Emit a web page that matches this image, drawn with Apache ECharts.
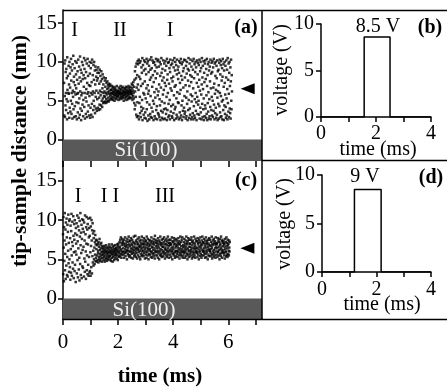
<!DOCTYPE html>
<html><head><meta charset="utf-8">
<script src="https://cdn.jsdelivr.net/npm/echarts@6/dist/echarts.min.js"></script>
<style>html,body{margin:0;padding:0;background:#fff}#c{width:447px;height:389px}</style>
</head><body><div id="c"></div>
<script>
const SERIF = '"Liberation Serif","Times New Roman",serif';

// Panel (a): tip-sample distance (nm), sampled evenly between timeRangeA (ms)
const timeRangeA = [0.04, 6.13];
const distA = [
7.3,3.1,9.8,5.6,2.9,10.2,4.4,8.7,6.0,3.8,9.1,5.2,7.9,2.6,10.6,6.4,4.9,8.2,3.4,6.0,9.5,5.9,7.1,2.8,10.0,4.1,8.5,6.7,3.6,9.3,
5.0,10.4,7.6,3.3,6.0,8.9,4.6,2.7,9.7,6.3,5.5,10.8,3.9,7.4,8.1,2.9,6.1,9.2,4.3,7.0,10.1,5.8,3.0,8.4,6.6,4.8,9.9,2.6,7.7,5.9,
8.8,3.5,6.0,10.3,4.7,7.2,2.8,9.4,5.3,8.0,3.2,10.7,6.2,4.0,9.0,7.5,2.5,5.7,8.6,3.7,10.0,6.0,4.5,7.8,9.6,3.0,5.1,8.3,6.8,10.5,
4.2,9.1,6.0,2.7,7.9,10.2,5.4,3.3,8.7,6.5,4.9,9.8,2.9,7.3,5.9,10.4,3.6,8.2,6.1,4.4,9.5,7.0,3.1,5.6,10.0,8.5,2.8,6.9,4.1,9.2,
6.0,3.2,9.9,7.4,4.6,10.3,5.8,2.9,8.3,6.2,3.8,9.6,5.0,7.7,10.0,4.3,6.0,8.9,3.4,7.1,9.4,5.5,4.0,8.1,6.3,9.0,3.7,7.6,5.2,8.6,
7.9,4.1,9.3,6.0,3.8,8.6,5.4,7.2,4.5,9.0,6.3,3.9,8.2,5.7,7.5,4.4,8.8,6.1,5.0,7.8,4.2,6.6,8.4,5.3,4.7,7.1,6.0,8.0,5.6,4.8,
6.2,4.9,7.6,5.5,6.8,4.7,7.9,6.0,5.2,7.3,5.8,4.8,6.5,7.5,5.0,6.1,7.0,5.4,6.7,4.9,7.2,5.9,6.3,5.1,6.9,5.6,7.1,6.0,5.3,6.4,
5.8,6.4,5.2,6.9,6.0,5.5,6.6,5.1,6.2,5.9,6.8,5.4,6.1,5.7,6.5,5.0,6.3,5.8,6.7,5.3,6.0,5.6,6.4,5.9,5.2,6.9,6.1,5.5,6.2,5.7,
6.3,5.6,6.0,5.1,6.7,5.9,6.2,5.4,6.5,5.8,6.1,5.2,6.9,6.0,5.5,6.4,5.7,6.6,5.3,6.0,5.9,6.8,5.4,6.2,5.6,6.3,5.0,6.1,5.8,6.6,
5.7,6.5,5.3,6.1,5.9,6.8,5.5,6.2,5.1,6.4,6.0,5.6,6.7,5.8,6.3,5.2,6.0,6.9,5.4,6.2,5.8,6.6,5.5,6.1,6.4,5.3,6.8,5.9,6.3,6.0,
6.1,5.4,7.2,5.8,6.6,5.1,7.0,6.3,5.6,7.4,6.0,5.3,6.8,4.7,7.7,3.9,8.8,6.2,4.4,9.4,5.5,7.9,3.2,9.8,6.7,2.9,8.3,4.8,10.1,7.1,
9.7,3.0,6.4,10.3,2.6,8.1,4.7,9.9,5.5,3.4,7.8,10.1,2.9,6.9,4.2,9.3,3.7,8.6,5.1,10.5,2.5,7.2,9.6,4.0,6.0,3.2,8.9,10.2,5.8,2.8,
7.5,10.0,3.5,9.1,5.3,2.7,8.4,6.6,10.4,3.9,4.8,9.8,2.4,7.0,10.1,5.9,3.1,8.7,6.3,9.5,2.6,4.5,10.3,7.7,3.3,9.0,5.6,2.9,8.0,10.6,
4.1,9.2,2.8,6.8,10.2,3.6,8.3,5.0,9.9,2.5,7.4,4.6,10.0,6.1,3.0,8.8,9.6,5.4,2.7,7.9,10.4,3.8,6.5,9.3,4.3,2.6,8.5,10.1,5.7,3.4,
10.3,6.2,3.2,9.4,7.1,2.9,5.2,10.0,4.4,8.2,2.5,9.7,6.7,3.7,10.5,8.6,4.9,2.8,7.6,9.1,3.5,5.8,10.2,2.6,8.0,6.4,3.9,9.8,4.7,7.3,
2.7,8.9,10.1,4.0,6.9,3.3,9.5,5.5,2.5,10.4,7.7,3.8,8.4,6.0,9.9,2.9,4.6,10.0,7.2,3.1,9.2,5.1,2.6,8.7,10.3,6.6,3.6,9.6,4.3,7.9,
6.3,3.0,9.8,2.8,7.5,10.2,4.5,8.1,3.4,9.3,5.7,2.5,10.5,6.8,3.9,8.9,10.0,4.2,7.0,2.7,9.6,5.3,3.2,8.4,10.3,6.1,2.9,9.0,4.8,7.8,
9.4,4.7,2.6,8.6,10.1,5.9,3.5,7.3,9.9,2.8,6.4,10.4,3.1,8.2,4.4,9.7,2.5,7.7,5.0,10.0,3.7,8.8,6.7,2.9,9.2,4.1,10.3,5.6,3.3,8.0,
3.6,10.2,7.0,2.7,9.5,5.4,3.0,8.5,10.0,4.6,6.2,2.5,9.1,7.6,3.8,10.5,5.1,8.9,2.8,6.9,9.8,4.0,3.2,8.3,10.3,5.8,2.6,7.4,9.4,4.9,
8.1,2.9,5.6,10.1,3.4,9.0,6.6,2.6,10.4,4.3,7.9,3.1,9.7,5.2,2.8,8.7,10.0,6.0,3.7,9.3,4.8,2.5,7.3,10.2,5.5,3.3,8.4,9.9,4.5,6.8,
5.0,9.6,3.2,7.7,10.3,2.7,6.3,8.8,4.1,10.0,3.5,9.2,5.8,2.6,7.1,10.5,4.6,8.0,2.9,9.5,6.5,3.9,10.1,5.3,2.5,8.6,7.4,3.0,9.8,4.4,
10.2,4.0,7.8,2.8,9.1,5.7,3.3,10.4,6.9,2.5,8.3,4.7,9.7,3.6,6.1,10.0,2.7,8.9,5.2,3.0,9.4,7.5,4.2,10.3,2.6,6.6,8.5,3.8,9.9,5.5,
3.1,8.7,10.1,5.0,2.9,9.3,6.7,3.7,10.4,4.5,7.2,2.6,9.8,5.9,3.4,8.2,10.0,4.1,6.4,2.8,9.5,7.9,3.2,10.2,5.4,2.5,8.8,6.2,4.6,9.0,
7.0,2.7,9.9,4.3,10.3,6.0,3.5,8.4,2.9,9.6,5.6,10.1,3.0,7.6,4.9,9.2,2.6,8.1,10.4,5.1,3.8,9.7,6.8,2.5,8.9,4.4,10.0,7.3,3.3,5.8,
9.5,4.2,2.8,8.0,10.2,5.3,3.1,9.0,6.5,2.6,10.5,4.7,7.7,3.6,9.8,5.9,2.9,8.6,10.0,4.0,6.9,3.4,9.3,2.7,7.5,10.3,5.0,3.9,8.3,6.2
];

// Panel (c): tip-sample distance (nm), sampled evenly between timeRangeC (ms)
const timeRangeC = [0.0, 6.05];
const distC = [
8.2,3.1,10.4,6.5,2.2,9.1,4.8,7.4,10.9,3.6,5.7,8.8,2.5,9.7,6.9,4.2,10.2,7.8,3.0,5.3,9.4,2.8,8.5,6.1,10.7,4.5,7.1,3.4,9.9,5.0,
10.1,4.0,7.7,2.4,9.3,6.3,3.3,8.6,10.8,5.5,2.9,7.2,9.8,4.6,6.7,3.8,10.5,8.0,2.6,5.9,9.5,7.5,3.5,10.0,4.3,8.3,6.0,2.1,9.0,7.0,
5.6,9.6,3.2,8.1,10.6,4.9,7.3,2.7,9.2,6.4,10.3,3.7,8.7,5.2,2.3,9.9,7.9,4.4,10.9,6.8,3.0,8.4,5.8,9.4,2.6,7.6,10.1,4.1,6.2,8.9,
3.9,10.0,6.6,8.5,2.8,9.7,5.1,7.4,3.4,10.6,4.7,8.2,6.0,2.5,9.1,7.0,10.4,3.6,5.5,8.8,3.1,9.5,6.9,4.3,10.2,2.9,7.8,5.3,9.0,3.3,
8.0,3.5,10.3,5.9,2.9,9.2,6.7,4.0,10.0,7.4,3.2,8.7,5.4,9.6,4.6,8.3,6.1,4.2,7.7,5.0,8.6,6.5,4.4,7.2,5.6,8.1,4.8,6.9,5.2,7.5,
6.3,4.7,7.4,5.5,6.8,4.9,7.0,5.8,6.1,4.6,7.2,5.3,6.6,5.0,7.6,5.7,6.2,4.8,6.9,5.4,6.4,5.1,7.1,5.9,4.7,6.7,5.6,6.0,5.2,6.5,
5.6,6.3,4.9,6.0,5.3,6.7,5.8,4.7,6.2,5.5,6.5,5.0,5.9,6.8,5.2,6.1,4.8,5.7,6.4,5.4,6.0,5.1,6.6,5.8,4.9,6.3,5.5,6.9,5.3,5.9,
6.1,5.4,6.6,5.0,5.8,6.4,4.8,6.0,5.6,6.9,5.2,6.2,5.7,4.7,6.5,5.9,5.3,6.7,5.5,6.1,4.9,6.3,5.8,6.8,5.1,6.0,5.6,6.4,5.4,6.2,
5.7,6.5,5.1,6.9,5.9,6.2,4.9,6.7,5.5,7.0,6.0,5.3,6.4,5.8,7.2,6.6,5.4,7.5,6.1,5.7,7.8,6.3,5.2,7.1,6.8,5.6,7.6,6.0,5.9,7.3,
6.4,7.1,5.6,6.9,5.2,7.5,6.0,6.7,5.8,7.8,6.3,5.4,7.0,6.6,5.9,7.3,6.1,5.0,6.8,7.6,6.2,5.7,7.2,6.5,5.5,7.9,6.0,6.9,5.3,7.4,
6.7,5.5,7.3,6.1,5.9,7.7,6.4,5.2,7.0,6.8,5.7,7.5,6.3,6.0,5.1,7.2,6.6,5.8,7.9,6.2,5.4,7.1,6.9,5.6,6.5,8.0,6.0,5.3,7.4,6.3,
5.8,7.2,6.5,5.1,6.9,7.6,6.2,5.5,7.0,6.4,5.9,7.8,6.7,5.3,7.3,6.1,6.6,5.0,7.5,6.8,5.7,7.1,6.3,5.4,7.9,6.0,6.5,5.6,7.4,6.9,
7.0,6.1,5.4,7.7,6.6,5.8,7.2,6.3,5.1,6.9,7.5,6.0,5.6,7.3,6.5,5.2,7.9,6.8,5.9,7.1,6.2,5.5,7.6,6.4,5.0,7.0,6.7,5.7,7.4,6.1,
6.3,5.6,7.4,6.8,5.3,7.1,6.0,7.8,5.9,6.5,5.2,7.3,6.6,5.7,7.0,6.2,5.4,7.6,6.9,5.8,7.2,6.4,5.1,8.0,6.1,5.5,7.5,6.7,6.0,7.1,
5.9,7.3,6.4,5.5,7.0,6.7,5.2,7.7,6.1,5.8,7.4,6.5,5.0,6.9,7.2,6.0,5.6,7.9,6.3,5.4,7.1,6.8,5.7,7.5,6.2,5.3,7.0,6.6,5.9,7.6,
6.6,5.4,7.2,6.0,7.8,5.7,6.9,6.3,5.1,7.4,6.5,5.8,7.0,6.2,5.5,7.6,6.8,5.3,7.3,6.1,5.9,7.9,6.4,5.6,7.1,6.7,5.2,7.5,6.0,6.9,
7.1,6.2,5.6,7.5,6.8,5.3,7.0,6.4,5.9,7.8,6.1,5.0,7.3,6.6,5.7,7.2,6.3,5.5,7.7,6.9,5.8,7.4,6.0,5.2,7.0,6.5,5.4,7.6,6.7,6.1,
6.0,7.4,5.7,6.8,5.3,7.1,6.5,5.9,7.7,6.2,5.5,7.3,6.9,5.1,7.0,6.4,5.8,7.9,6.1,5.6,7.2,6.7,5.4,7.5,6.3,5.9,7.8,6.0,5.2,6.6,
6.8,5.5,7.2,6.1,5.8,7.6,6.4,5.2,7.0,6.7,5.9,7.4,6.2,5.4,7.9,6.5,5.7,7.1,6.9,5.0,7.3,6.3,5.6,7.7,6.0,5.3,7.5,6.6,6.1,7.0,
5.7,7.0,6.6,5.4,7.5,6.2,5.9,7.8,6.4,5.1,7.2,6.8,5.6,7.4,6.0,5.3,7.1,6.5,5.8,7.9,6.3,5.5,7.0,6.7,5.2,7.6,6.1,5.9,7.3,6.4,
6.5,5.8,7.3,6.0,5.3,7.7,6.9,5.6,7.1,6.3,5.0,7.5,6.6,5.9,7.2,6.1,5.4,7.8,6.7,5.7,7.0,6.4,5.2,7.4,6.8,5.5,7.9,6.2,6.0,7.1,
7.2,6.0,5.5,7.6,6.4,5.8,7.0,6.7,5.2,7.4,6.1,5.7,7.8,6.5,5.3,7.1,6.9,5.9,7.3,6.2,5.0,7.5,6.6,5.6,7.0,6.3,5.4,7.7,6.8,6.1,
6.1,7.5,5.9,6.7,5.4,7.2,6.3,5.7,7.9,6.5,5.1,7.0,6.8,5.6,7.4,6.0,5.3,7.6,6.2,5.8,7.1,6.9,5.5,7.3,6.4,5.2,7.8,6.6,6.0,7.0,
6.9,5.6,7.1,6.4,5.3,7.7,6.0,5.9,7.4,6.6,5.5,7.2,6.2,5.0,7.6,6.8,5.7,7.0,6.3,5.4,7.9,6.5,5.8,7.3,6.1,5.2,7.5,6.7,5.9,7.1,
6.2,7.3,5.8,6.9,5.5,7.0,6.6,5.1,7.6,6.3,5.9,7.2,6.0,5.4,7.8,6.7,5.6,7.1,6.4,5.3,7.5,6.8,5.7,7.0,6.1,5.5,7.4,6.5,6.0,7.2
];

// Panels (b) and (d): voltage pulse (time ms, voltage V)
const pulseTimeB = [0, 1.57, 1.57, 2.51, 2.51, 4];
const pulseVoltB = [0, 0, 8.6, 8.6, 0, 0];
const pulseTimeD = [0, 1.19, 1.19, 2.17, 2.17, 4];
const pulseVoltD = [0, 0, 8.5, 8.5, 0, 0];

// Marker (arrow) positions [time, distance]
const markerA = [6.7, 6.56];
const markerC = [6.69, 6.4];

// Tick values
const timeTicks = [0, 1, 2, 3, 4, 5, 6, 7];
const timeTickLabels = [0, 2, 4, 6];
const distTicks = [0, 5, 10, 15];
const pulseTimeTicks = [0, 1, 2, 3, 4];
const pulseTimeLabels = [0, 2, 4];
const voltTicks = [0, 5, 10];

function toPairs(vals, range) {
  const dt = (range[1] - range[0]) / (vals.length - 1);
  return vals.map((v, i) => [range[0] + i * dt, v]);
}
function zip(a, b) { return a.map((v, i) => [v, b[i]]); }

const LW = 1.5;
const axisLineStyle = { color: '#000', width: LW };
const lbl = (size, custom, margin) => ({ show: true, customValues: custom, color: '#000', fontFamily: SERIF, fontSize: size, margin: margin });

const chart = echarts.init(document.getElementById('c'), null, { renderer: 'canvas' });

const yMinA = -2.77, yMaxA = 16.7, yMinC = -2.62, yMaxC = 17.55;

function txt(text, x, y, size, opts) {
  opts = opts || {};
  return {
    type: 'text', x: x, y: y, rotation: opts.rot || 0, z: 100,
    style: { text: text, font: (opts.bold ? 'bold ' : '') + size + 'px ' + SERIF, fill: opts.fill || '#000', align: 'center', verticalAlign: 'middle' }
  };
}
function ln(x1, y1, x2, y2) {
  return { type: 'line', z: 100, shape: { x1: x1, y1: y1, x2: x2, y2: y2 }, style: { stroke: '#000', lineWidth: LW } };
}

const option = {
  animation: false,
  backgroundColor: '#fff',
  grid: [
    { left: 63, top: 10, width: 199, height: 151, outerBoundsMode: 'none', containLabel: false },
    { left: 63, top: 161, width: 199, height: 158, outerBoundsMode: 'none', containLabel: false },
    { left: 321, top: 24, width: 110, height: 93, outerBoundsMode: 'none', containLabel: false },
    { left: 322, top: 175, width: 109, height: 97, outerBoundsMode: 'none', containLabel: false }
  ],
  xAxis: [
    { gridIndex: 0, type: 'value', min: 0, max: 7.22, splitLine: { show: false },
      axisLine: { show: false, onZero: false }, axisTick: { show: true, customValues: timeTicks, length: 6, lineStyle: axisLineStyle },
      axisLabel: { show: false } },
    { gridIndex: 1, type: 'value', min: 0, max: 7.22, splitLine: { show: false },
      axisLine: { show: true, onZero: false, lineStyle: axisLineStyle }, axisTick: { show: true, customValues: timeTicks, length: 6, lineStyle: axisLineStyle },
      axisLabel: lbl(21, timeTickLabels, 13) },
    { gridIndex: 2, type: 'value', min: 0, max: 4, interval: 1, splitLine: { show: false },
      axisLine: { show: true, onZero: false, lineStyle: axisLineStyle }, axisTick: { show: true, customValues: pulseTimeTicks, length: 5, lineStyle: axisLineStyle },
      axisLabel: lbl(20, pulseTimeLabels, 7) },
    { gridIndex: 3, type: 'value', min: 0, max: 4, interval: 1, splitLine: { show: false },
      axisLine: { show: true, onZero: false, lineStyle: axisLineStyle }, axisTick: { show: true, customValues: pulseTimeTicks, length: 5, lineStyle: axisLineStyle },
      axisLabel: lbl(20, pulseTimeLabels, 8) }
  ],
  yAxis: [
    { gridIndex: 0, type: 'value', min: yMinA, max: yMaxA, splitLine: { show: false },
      axisLine: { show: true, onZero: false, lineStyle: axisLineStyle }, axisTick: { show: true, customValues: distTicks, length: 5, lineStyle: axisLineStyle },
      axisLabel: lbl(21, distTicks, 6) },
    { gridIndex: 1, type: 'value', min: yMinC, max: yMaxC, splitLine: { show: false },
      axisLine: { show: true, onZero: false, lineStyle: axisLineStyle }, axisTick: { show: true, customValues: distTicks, length: 5, lineStyle: axisLineStyle },
      axisLabel: lbl(21, distTicks, 6) },
    { gridIndex: 2, type: 'value', min: 0, max: 10, interval: 5, splitLine: { show: false },
      axisLine: { show: true, onZero: false, lineStyle: axisLineStyle }, axisTick: { show: true, customValues: voltTicks, length: 5, lineStyle: axisLineStyle },
      axisLabel: lbl(20, voltTicks, 7) },
    { gridIndex: 3, type: 'value', min: 0, max: 10, interval: 5, splitLine: { show: false },
      axisLine: { show: true, onZero: false, lineStyle: axisLineStyle }, axisTick: { show: true, customValues: voltTicks, length: 5, lineStyle: axisLineStyle },
      axisLabel: lbl(20, voltTicks, 7) }
  ],
  series: [
    { type: 'scatter', xAxisIndex: 0, yAxisIndex: 0, data: toPairs(distA, timeRangeA), symbol: 'rect', symbolSize: 2.5,
      itemStyle: { color: '#000' }, silent: true,
      markArea: { silent: true, itemStyle: { color: '#595959' }, data: [[{ yAxis: yMinA }, { yAxis: 0 }]] },
      markPoint: { silent: true, symbol: 'path://M0 5L12 0L12 10Z', symbolSize: [14, 11], itemStyle: { color: '#000' }, label: { show: false },
        data: [{ coord: markerA }] } },
    { type: 'scatter', xAxisIndex: 1, yAxisIndex: 1, data: toPairs(distC, timeRangeC), symbol: 'rect', symbolSize: 2.5,
      itemStyle: { color: '#000' }, silent: true,
      markArea: { silent: true, itemStyle: { color: '#595959' }, data: [[{ yAxis: yMinC }, { yAxis: 0 }]] },
      markPoint: { silent: true, symbol: 'path://M0 5L12 0L12 10Z', symbolSize: [14, 11], itemStyle: { color: '#000' }, label: { show: false },
        data: [{ coord: markerC }] } },
    { type: 'line', xAxisIndex: 2, yAxisIndex: 2, data: zip(pulseTimeB, pulseVoltB), symbol: 'none', lineStyle: { color: '#000', width: LW } },
    { type: 'line', xAxisIndex: 3, yAxisIndex: 3, data: zip(pulseTimeD, pulseVoltD), symbol: 'none', lineStyle: { color: '#000', width: LW } }
  ],
  graphic: [
    ln(63, 10.5, 447, 10.5),
    ln(262, 10, 262, 320),
    ln(262, 160.5, 447, 160.5),
    ln(63, 319.5, 447, 319.5),
    txt('tip-sample distance (nm)', 20, 151, 22, { bold: true, rot: Math.PI / 2 }),
    txt('time (ms)', 160, 377, 21, { bold: true }),
    txt('I', 74.5, 31, 20), txt('II', 120, 31, 20), txt('I', 170, 31, 20),
    txt('(a)', 246, 28, 20, { bold: true }),
    txt('Si(100)', 146, 150, 21, { fill: '#eeeeee' }),
    txt('I', 78, 197, 20), txt('I I', 110, 197, 20), txt('III', 165, 197, 20),
    txt('(c)', 246, 181, 20, { bold: true }),
    txt('Si(100)', 144, 310, 21, { fill: '#eeeeee' }),
    txt('8.5 V', 378, 27, 20), txt('(b)', 430, 28, 20, { bold: true }),
    txt('voltage (V)', 282, 70, 20, { rot: Math.PI / 2 }),
    txt('time (ms)', 378, 150, 20),
    txt('9 V', 365, 177, 20), txt('(d)', 431, 178, 20, { bold: true }),
    txt('voltage (V)', 285, 224, 20, { rot: Math.PI / 2 }),
    txt('time (ms)', 382, 305, 20)
  ]
};
chart.setOption(option);
</script></body></html>
